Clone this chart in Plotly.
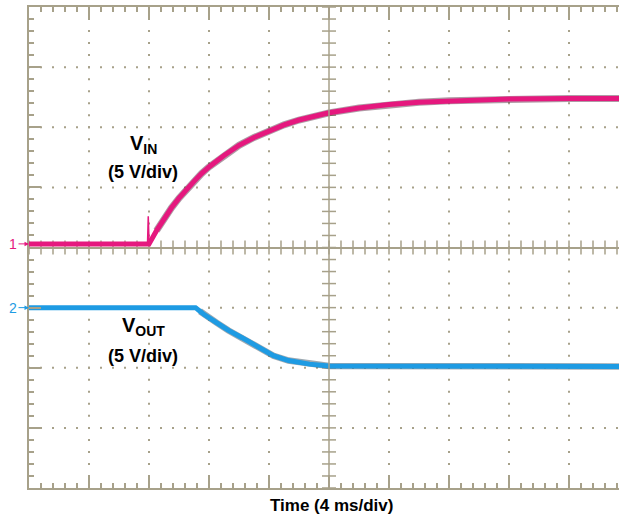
import numpy as np
import plotly.graph_objects as go

# Scope capture: 4 ms/div, 5 V/div both channels
t_vin = [0, 8.0, 8.5, 9.0, 9.5, 10.0, 10.5, 11.0, 11.5, 12.0, 13.0, 14.0, 15.0, 16.0, 17.0,
         18.0, 19.0, 20.0, 22.0, 24.0, 26.0, 28.0, 32.0, 36.0, 39.4]
vin = [0, 0, 1.1, 2.1, 3.0, 3.8, 4.55, 5.2, 5.85, 6.4, 7.35, 8.2, 8.85, 9.4, 9.9,
       10.3, 10.6, 10.9, 11.3, 11.6, 11.78, 11.9, 12.05, 12.1, 12.1]

# small glitch at the switch-on edge
t_spike = [7.9, 7.95, 8.0]
v_spike = [0, 2.3, 0.3]

t_vout = [0, 11.1, 11.4, 11.7, 12.5, 13.3, 14.2, 15.0, 15.7, 16.3, 17.3, 18.7, 20.0, 39.4]
vout = [0, 0, -0.3, -0.6, -1.25, -1.9, -2.5, -3.1, -3.6, -4.0, -4.4, -4.7, -4.85, -4.9]

# ground marker positions on screen (V)
ch1_gnd = 0.3
ch2_gnd = -5.0

PINK = "#E5187E"
BLUE = "#1E9BE3"
GRAT = "#A7A18A"
FONT = "Liberation Sans, Arial, sans-serif"

x_max = 590 / 60 * 4  # right edge of the capture is cut off

fig = go.Figure()

# dotted graticule
dx, dy = [], []
for gx in range(4, 40, 4):
    if gx == 20:
        continue
    for gy in np.arange(-20, 20.01, 1.0):
        dx.append(gx)
        dy.append(gy)
for gy in (-15, -10, -5, 5, 10, 15):
    for gx in np.arange(0, x_max, 0.8):
        dx.append(gx)
        dy.append(gy)
fig.add_trace(go.Scatter(x=dx, y=dy, mode="markers", hoverinfo="skip",
                         marker=dict(symbol="square", size=2, color=GRAT)))

# center cross ticks
cx = np.arange(0, x_max, 0.8)
fig.add_trace(go.Scatter(x=cx, y=[0] * len(cx), mode="markers", hoverinfo="skip",
                         marker=dict(symbol="line-ns", size=10, line=dict(color=GRAT, width=1.5))))
cy = np.arange(-20, 20.01, 1.0)
fig.add_trace(go.Scatter(x=[20] * len(cy), y=cy, mode="markers", hoverinfo="skip",
                         marker=dict(symbol="line-ew", size=10, line=dict(color=GRAT, width=1.5))))
fig.add_shape(type="line", x0=20, x1=20, y0=-20, y1=20, line=dict(color=GRAT, width=1.5))

# waveforms (dark underlay mimics the scope's noisy edge pixels)
vo = [v + ch2_gnd for v in vout]
vi = [v + ch1_gnd for v in vin]
fig.add_trace(go.Scatter(x=t_vout[2:], y=vo[2:], mode="lines", opacity=0.4,
                         line=dict(color="#0b2a40", width=6.5)))
fig.add_trace(go.Scatter(x=t_vout, y=vo, mode="lines", line=dict(color=BLUE, width=5)))
fig.add_trace(go.Scatter(x=t_vin[2:], y=vi[2:], mode="lines", opacity=0.4,
                         line=dict(color="#3a0620", width=7)))
fig.add_trace(go.Scatter(x=t_vin, y=vi, mode="lines", line=dict(color=PINK, width=5)))
fig.add_trace(go.Scatter(x=t_spike, y=[v + ch1_gnd for v in v_spike], mode="lines",
                         line=dict(color=PINK, width=1.5)))

labels = [
    (7.6, 8.6, "<b>V<sub>IN</sub></b>", 20),
    (7.6, 6.3, "<b>(5 V/div)</b>", 18),
    (7.6, -6.6, "<b>V<sub>OUT</sub></b>", 20),
    (7.6, -9.0, "<b>(5 V/div)</b>", 18),
]
for x, y, txt, sz in labels:
    fig.add_annotation(x=x, y=y, text=txt, showarrow=False, xanchor="center", yanchor="middle",
                       font=dict(family=FONT, color="black", size=sz))

fig.add_annotation(xref="paper", yref="paper", x=0.512, y=0, yshift=-17,
                   xanchor="center", yanchor="middle",
                   text="<b>Time (4 ms/div)</b>", showarrow=False,
                   font=dict(family=FONT, size=17, color="black"))

for lvl, lab, col in ((ch1_gnd, "1", PINK), (ch2_gnd, "2", BLUE)):
    fig.add_annotation(x=0, y=lvl, text=lab, ax=-16, ay=0, showarrow=True,
                       arrowhead=2, arrowsize=0.9, arrowwidth=1, arrowcolor=col,
                       font=dict(family=FONT, size=14, color=col))

fig.update_xaxes(range=[0, x_max], showgrid=False, zeroline=False, showticklabels=False,
                 showline=True, linecolor=GRAT, linewidth=2, mirror="ticks",
                 ticks="inside", ticklen=13, tickwidth=1.5, tickcolor=GRAT, tick0=0, dtick=4,
                 minor=dict(ticks="inside", ticklen=5, tickwidth=1.5, tickcolor=GRAT,
                            tick0=0, dtick=0.8, showgrid=False))
fig.update_yaxes(range=[-20, 20], showgrid=False, zeroline=True, zerolinecolor=GRAT,
                 zerolinewidth=1.5, showticklabels=False,
                 showline=True, linecolor=GRAT, linewidth=2,
                 ticks="inside", ticklen=12, tickwidth=1.5, tickcolor=GRAT, tick0=0, dtick=5,
                 minor=dict(ticks="inside", ticklen=5, tickwidth=1.5, tickcolor=GRAT,
                            tick0=0, dtick=1, showgrid=False))

fig.update_layout(width=619, height=516, showlegend=False,
                  margin=dict(l=29, r=0, t=7, b=28),
                  paper_bgcolor="white", plot_bgcolor="white")

fig.write_html("out.html", config={"displayModeBar": False},
               post_script="document.body.style.margin='0';document.body.style.overflow='hidden';")
